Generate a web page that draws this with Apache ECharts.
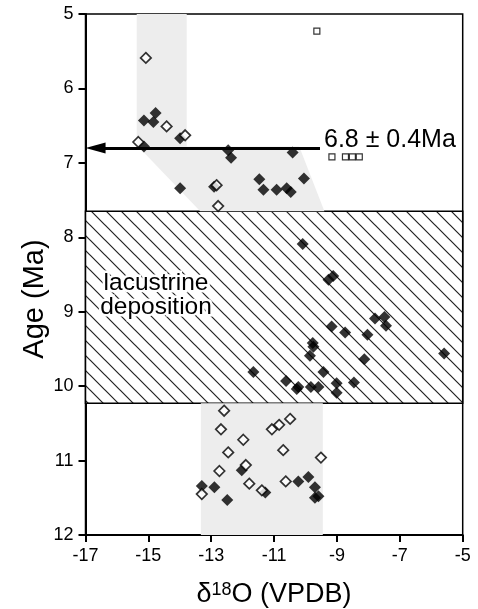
<!DOCTYPE html>
<html>
<head>
<meta charset="utf-8">
<script src="https://cdn.jsdelivr.net/npm/echarts@6/dist/echarts.min.js"></script>
<style>
  html, body { margin: 0; padding: 0; background: #fff; }
  #main { width: 478px; height: 609px; }
</style>
</head>
<body>
<div id="main"></div>
<script>
// d18O (x) vs age in Ma (y)
var filledTop = [
    [-15.14, 6.43], [-14.77, 6.33], [-14.84, 6.45], [-15.14, 6.78], [-13.99, 6.67],
    [-13.99, 7.34], [-12.91, 7.32], [-12.46, 6.83], [-12.37, 6.93], [-10.41, 6.86],
    [-10.05, 7.21], [-11.47, 7.22], [-11.34, 7.36], [-10.92, 7.36], [-10.60, 7.34],
    [-10.47, 7.39]
];
var filledLake = [
    [-10.09, 8.09], [-9.27, 8.57], [-9.12, 8.52], [-9.17, 9.20], [-8.74, 9.28],
    [-8.03, 9.31], [-7.79, 9.09], [-7.49, 9.07], [-7.44, 9.19], [-5.59, 9.56],
    [-9.77, 9.42], [-9.75, 9.47], [-9.86, 9.59], [-8.13, 9.64], [-9.43, 9.81],
    [-10.62, 9.93], [-10.28, 10.04], [-10.23, 10.01], [-9.83, 10.01], [-9.59, 10.01],
    [-9.01, 9.96], [-9.01, 10.09], [-8.46, 9.95], [-11.66, 9.81]
];
var filledBottom = [
    [-13.30, 11.34], [-12.90, 11.36], [-12.49, 11.53], [-12.03, 11.13], [-11.28, 11.43],
    [-10.23, 11.28], [-9.91, 11.22], [-9.70, 11.36], [-9.70, 11.50], [-9.59, 11.48]
];
var openTop = [
    [-15.08, 5.59], [-14.42, 6.51], [-13.83, 6.63], [-15.32, 6.72], [-12.83, 7.30],
    [-12.78, 7.58]
];
var openBottom = [
    [-12.59, 10.33], [-12.69, 10.58], [-11.98, 10.72], [-12.46, 10.89], [-11.07, 10.58],
    [-10.84, 10.52], [-10.49, 10.44], [-10.71, 10.86], [-9.51, 10.96], [-11.90, 11.06],
    [-12.74, 11.14], [-11.79, 11.31], [-10.63, 11.28], [-13.30, 11.45], [-11.39, 11.40]
];
var squares = [
    [-9.64, 5.23], [-9.16, 6.92], [-8.73, 6.92], [-8.51, 6.92], [-8.29, 6.92]
];
// grey bands (polygons in data units)
var bandTop = [[-15.37, 5], [-13.78, 5], [-13.78, 6.78], [-10.2, 6.78], [-9.4, 7.65], [-13.35, 7.65], [-15.37, 6.76]];
var bandBottom = [[-13.33, 10.23], [-9.45, 10.23], [-9.45, 12], [-13.33, 12]];
var lakeFrom = 7.65, lakeTo = 10.23;
var arrowAge = 6.8;
var xTicks = [-17, -15, -13, -11, -9, -7, -5];

var font = '"Liberation Sans", Arial, sans-serif';

// hatch pattern
var hatch = document.createElement('canvas');
hatch.width = 15;
hatch.height = 15;
var ctx = hatch.getContext('2d');
ctx.fillStyle = '#fff';
ctx.fillRect(0, 0, 15, 15);
ctx.strokeStyle = '#222';
ctx.lineWidth = 1.2;
ctx.beginPath();
ctx.moveTo(-2, -2); ctx.lineTo(17, 17);
ctx.moveTo(-2, 13); ctx.lineTo(2, 17);
ctx.moveTo(13, -2); ctx.lineTo(17, 2);
ctx.stroke();

var bands = [bandTop, bandBottom];

var myChart = echarts.init(document.getElementById('main'));
var option = {
    animation: false,
    backgroundColor: '#fff',
    grid: {
        left: 85.5, right: 15.3, top: 14, bottom: 74,
        show: true, borderColor: '#000', borderWidth: 1.5
    },
    xAxis: {
        type: 'value', min: -17, max: -5, interval: 1,
        axisLine: { onZero: false, lineStyle: { color: '#000', width: 2 } },
        axisTick: { show: true, length: 7, lineStyle: { color: '#000', width: 2 }, customValues: xTicks },
        axisLabel: { color: '#000', fontSize: 18, fontFamily: font, margin: 12, customValues: xTicks },
        splitLine: { show: false }
    },
    yAxis: {
        type: 'value', min: 5, max: 12, interval: 1, inverse: true,
        axisLine: { onZero: false, lineStyle: { color: '#000', width: 2 } },
        axisTick: { show: true, length: 7, lineStyle: { color: '#000', width: 2 } },
        axisLabel: { color: '#000', fontSize: 18, fontFamily: font, margin: 12 },
        splitLine: { show: false }
    },
    graphic: [
        {
            type: 'text', x: 35, y: 299, rotation: Math.PI / 2, z: 10,
            style: { text: 'Age (Ma)', font: '29px ' + font, fill: '#000', align: 'center', verticalAlign: 'middle' }
        },
        {
            type: 'text', x: 274, y: 595, z: 10,
            style: {
                text: '{a|δ}{s|18}{a|O (VPDB)}', align: 'center', verticalAlign: 'middle',
                rich: {
                    a: { fontSize: 27, fontFamily: font, fill: '#000' },
                    s: { fontSize: 18, fontFamily: font, fill: '#000', padding: [0, 0, 10, 0] }
                }
            }
        },
        {
            type: 'text', x: 156, y: 295, z: 10,
            style: {
                text: 'lacustrine\ndeposition', font: '24.5px ' + font, fill: '#000',
                align: 'center', verticalAlign: 'middle', lineHeight: 24,
                stroke: '#fff', lineWidth: 5
            }
        },
        {
            type: 'text', x: 324, y: 140, z: 10,
            style: { text: '6.8 ± 0.4Ma', font: '25px ' + font, fill: '#000', align: 'left', verticalAlign: 'middle' }
        }
    ],
    series: [
        {
            type: 'custom', z: 1, silent: true,
            data: [[0], [1]],
            renderItem: function (params, api) {
                var pts = bands[params.dataIndex].map(function (p) { return api.coord(p); });
                return { type: 'polygon', shape: { points: pts }, style: { fill: '#ededed' } };
            }
        },
        {
            type: 'line', z: 2, data: [], silent: true,
            markArea: {
                silent: true,
                itemStyle: { color: { image: hatch, repeat: 'repeat' }, borderColor: '#000', borderWidth: 1.5 },
                data: [[{ yAxis: lakeFrom }, { yAxis: lakeTo }]]
            },
            markLine: {
                silent: true,
                label: { show: false },
                lineStyle: { color: '#000', width: 3, type: 'solid' },
                data: [[
                    { coord: [-9.54, arrowAge], symbol: 'none' },
                    { coord: [-16.68, arrowAge], symbol: 'triangle', symbolSize: [11, 20] }
                ]]
            }
        },
        {
            type: 'scatter', z: 3, symbol: 'diamond', symbolSize: 12,
            itemStyle: { color: '#000' },
            data: filledTop.concat(filledLake, filledBottom)
        },
        {
            type: 'scatter', z: 4, symbol: 'diamond', symbolSize: 10.5,
            itemStyle: { color: '#fff', borderColor: '#000', borderWidth: 1.7 },
            data: openTop.concat(openBottom)
        },
        {
            type: 'scatter', z: 4, symbol: 'rect', symbolSize: 6,
            itemStyle: { color: '#fff', borderColor: '#000', borderWidth: 1.2 },
            data: squares
        }
    ]
};
myChart.setOption(option);
</script>
</body>
</html>
